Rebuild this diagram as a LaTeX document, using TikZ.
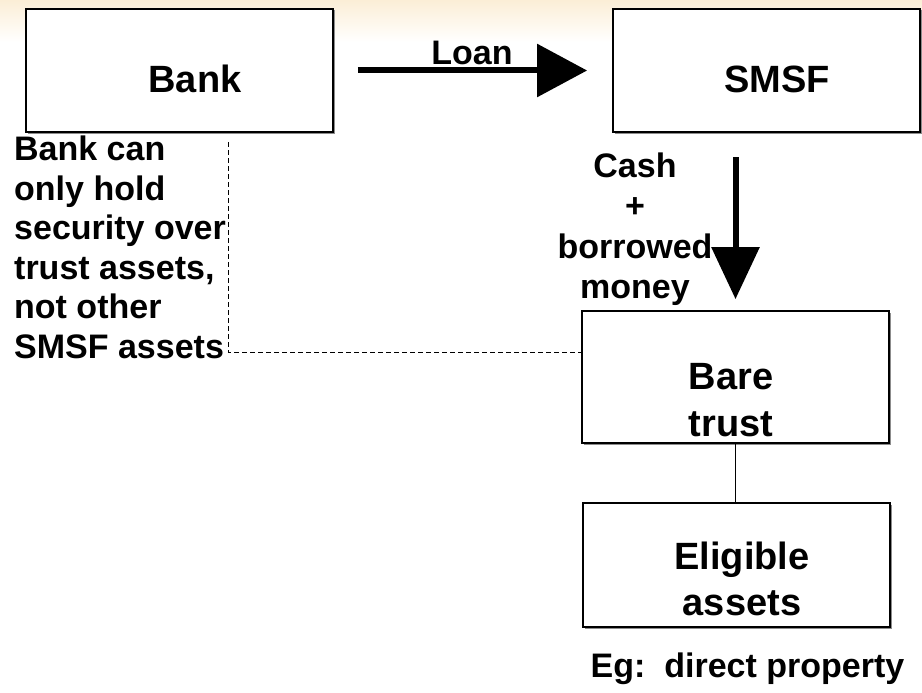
\documentclass[tikz,border=0pt]{standalone}
\usepackage{fontspec}
\setmainfont{Liberation Sans}
\usetikzlibrary{arrows.meta,shadows}
\definecolor{fade}{RGB}{251,238,214}
\begin{document}
\begin{tikzpicture}[x=1pt,y=-1pt,
  box/.style={draw=black, line width=1.8pt, fill=white, inner sep=0pt,
    drop shadow={shadow xshift=1.5pt, shadow yshift=-1.5pt, fill=black!45, opacity=1}},
  boxlbl/.style={inner sep=0pt, align=center, font=\fontsize{38}{47}\selectfont\bfseries},
  sidetxt/.style={inner sep=0pt, font=\fontsize{34}{39.5}\selectfont\bfseries},
  bigarrow/.style={line width=6pt, -{Triangle[length=50pt,width=52pt]}},
  dashline/.style={line width=1pt, dash pattern=on 5pt off 3pt},
  thinline/.style={line width=1pt}]
\useasboundingbox (0,0) rectangle (922,693);
\fill[white] (0,0) rectangle (922,693);
\shade[top color=fade, bottom color=white] (0,0) rectangle (922,42);

% boxes
\node[box, minimum width=307pt, minimum height=123pt] (bank) at (179.5,70.5) {};
\node[box, minimum width=307pt, minimum height=123pt] (smsf) at (766.5,70.5) {};
\node[box, minimum width=307pt, minimum height=132pt] (bare) at (735.5,377) {};
\node[box, minimum width=307pt, minimum height=124pt] (elig) at (736.5,565) {};

% box labels (anchor=base is the baseline of the last line)
\node[boxlbl, anchor=base] (banklbl) at (195,93) {Bank};
\node[boxlbl, anchor=base] (smsflbl) at (777,93) {SMSF};
\node[boxlbl, anchor=base] (barelbl) at (731,436) {Bare\\trust};
\node[boxlbl, anchor=base, font=\fontsize{38}{46}\selectfont\bfseries] (eliglbl) at (742,615) {Eligible\\assets};

% side texts
\node[sidetxt, anchor=base] (loan) at (472,65) {Loan};
\node[sidetxt, anchor=base west, align=left] (note) at (14,358) {Bank can\\only hold\\security over\\trust assets,\\not other\\SMSF assets};
\node[sidetxt, anchor=base, align=center, font=\fontsize{34}{40.5}\selectfont\bfseries] (cash) at (635,298.5) {Cash\\+\\borrowed\\money};
\node[sidetxt, anchor=base] (eg) at (747.5,677) {Eg:\ \ direct property};

% connectors
\draw[bigarrow] ([xshift=24pt]bank.east) -- ([xshift=-25pt]smsf.west);
\coordinate (vtop) at (735.5,157);
\draw[bigarrow, -{Triangle[length=52pt,width=47pt]}] (vtop) -- ([yshift=11pt]bare.north);
\coordinate (dtop) at (228,142);
\draw[dashline] (dtop) |- ([yshift=25pt]bare.west);
\draw[thinline] (bare.south) -- (bare.south |- elig.north);
\end{tikzpicture}
\end{document}
